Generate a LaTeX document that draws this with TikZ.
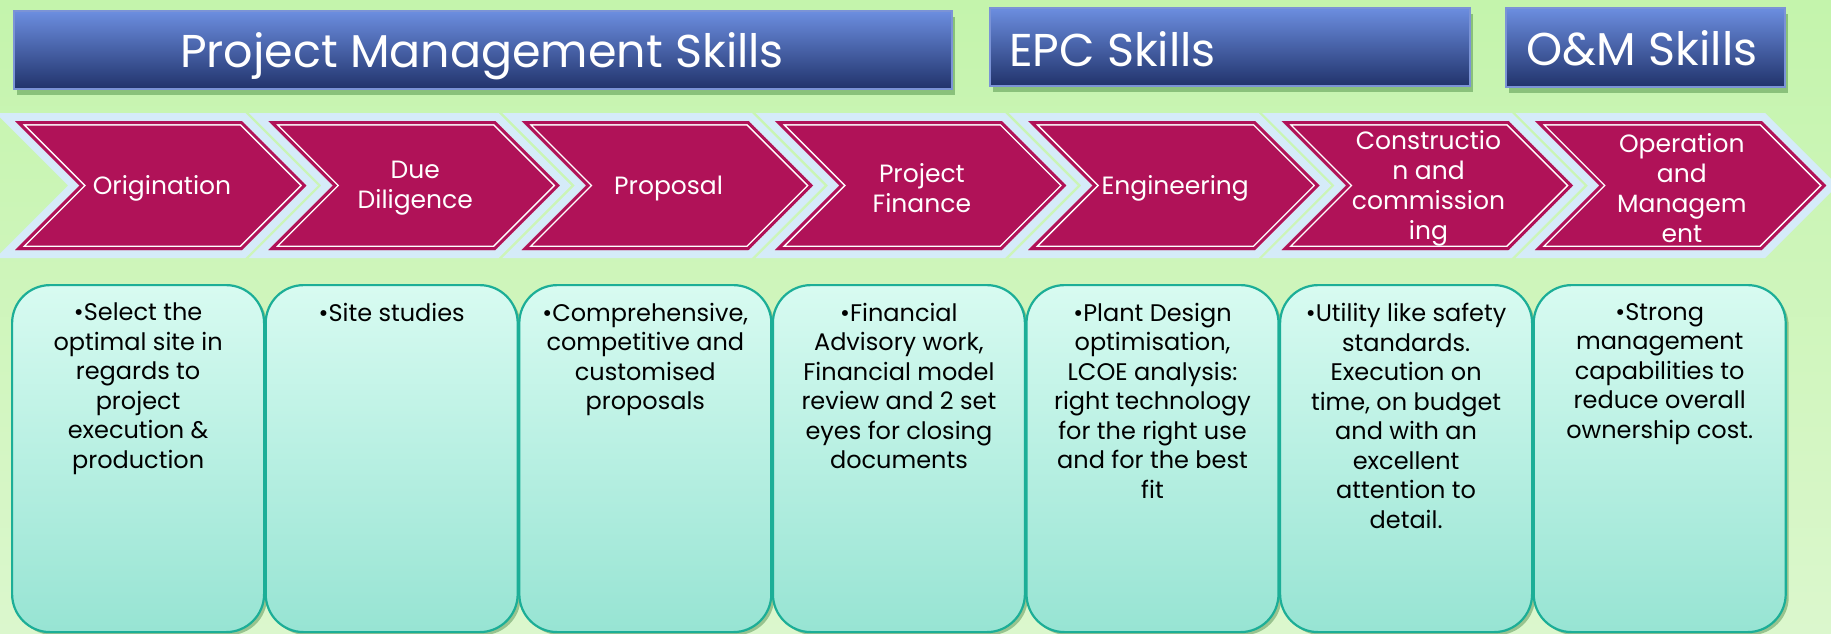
\documentclass[tikz,border=0pt]{standalone}
\usepackage{fontspec}
\setmainfont{Poppins}
\usetikzlibrary{shadows}
\definecolor{bgtop}{HTML}{C4F4AC}
\definecolor{bgbot}{HTML}{DBF7CD}
\definecolor{hdrtop}{HTML}{6C8EE0}
\definecolor{hdrbot}{HTML}{21336B}
\definecolor{hdredge}{HTML}{7B93D6}
\definecolor{chev}{HTML}{B01258}
\definecolor{halo}{HTML}{D5EBF9}
\definecolor{boxtop}{HTML}{D8FBF1}
\definecolor{boxbot}{HTML}{97E4D3}
\definecolor{boxedge}{HTML}{1CAE97}
\tikzset{
  hdr/.style={draw=hdredge, line width=2pt, top color=hdrtop, bottom color=hdrbot,
    drop shadow={shadow xshift=3pt, shadow yshift=-6pt, opacity=0.3, fill=black!70!green}},
  hdrtext/.style={text=white, font=\fontsize{46}{54}\selectfont, inner sep=0pt, anchor=base},
  chevlabel/.style={text=white, align=center, font=\fontsize{25}{30}\selectfont, inner sep=0pt},
  stagebox/.style={draw=boxedge, line width=2.2pt, rounded corners=38pt, top color=boxtop, bottom color=boxbot,
    drop shadow={shadow xshift=3pt, shadow yshift=-3pt, opacity=0.3, fill=black!70!green}},
  boxtext/.style={text=black, align=center, font=\fontsize{24}{29.5}\selectfont, inner sep=0pt, anchor=north},
}
\newcommand{\chevpath}[1]{(#1,121) -- ++(227,0) -- ++(64.5,64.5) -- ++(-64.5,64.5) -- ++(-227,0) -- ++(64.5,-64.5) -- cycle}
\newcommand{\stage}[3]{%
  \pgfmathsetmacro\xo{15+253.3*#1}%
  \pgfmathsetmacro\bx{11+253.6*#1}%
  \draw[halo, line width=16pt, line join=miter] \chevpath{\xo};
  \begin{scope}
    \clip \chevpath{\xo};
    \fill[chev] \chevpath{\xo};
    \draw[white, line width=9pt] \chevpath{\xo};
    \draw[chev, line width=6pt] \chevpath{\xo};
  \end{scope}
  \node[chevlabel] (c#1) at (\xo+147,188.5) {#2};
  \node[stagebox, minimum width=252pt, minimum height=347pt, anchor=north west] (b#1) at (\bx,284) {};
  \node[boxtext] (t#1) at ([yshift=-19pt]b#1.north) {#3};
}
\begin{document}
\begin{tikzpicture}[x=1pt,y=-1pt]
\useasboundingbox (0,0) rectangle (1831,633);
\shade[top color=bgtop, bottom color=bgbot] (0,0) rectangle (1831,633);
% headers
\node[hdr, minimum width=938pt, minimum height=78pt, anchor=north west] (pm) at (12.7,10) {};
\node[hdr, minimum width=480pt, minimum height=78pt, anchor=north west] (epc) at (989,7) {};
\node[hdr, minimum width=279pt, minimum height=79pt, anchor=north west] (om) at (1505,7) {};
\node[hdrtext] (pmt) at (482,67) {Project Management Skills};
\node[hdrtext, anchor=base west] (epct) at (1009,66) {EPC Skills};
\node[hdrtext] (omt) at (1642,65) {O\&M Skills};
% stages
\stage{0}{Origination}{•Select the\\optimal site in\\regards to\\project\\execution \&\\production}
\stage{1}{Due\\Diligence}{•Site studies}
\stage{2}{Proposal}{•Comprehensive,\\competitive and\\customised\\proposals}
\stage{3}{Project\\Finance}{•Financial\\Advisory work,\\Financial model\\review and 2 set\\eyes for closing\\documents}
\stage{4}{Engineering}{•Plant Design\\optimisation,\\LCOE analysis:\\right technology\\for the right use\\and for the best\\fit}
\stage{5}{Constructio\\n and\\commission\\ing}{•Utility like safety\\standards.\\Execution on\\time, on budget\\and with an\\excellent\\attention to\\detail.}
\stage{6}{Operation\\and\\Managem\\ent}{•Strong\\management\\capabilities to\\reduce overall\\ownership cost.}
\end{tikzpicture}
\end{document}
